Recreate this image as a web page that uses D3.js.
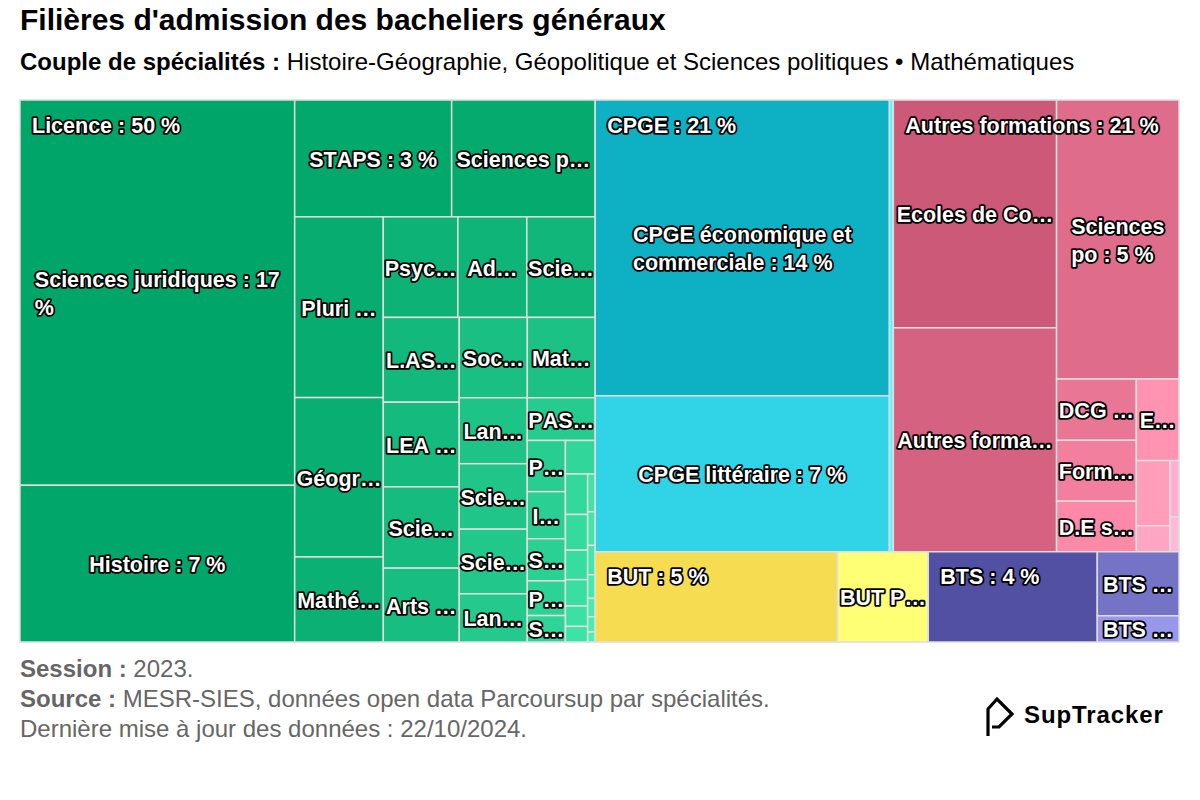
<!DOCTYPE html>
<html><head><meta charset="utf-8">
<script src="https://cdn.jsdelivr.net/npm/d3@7"></script>
<style>
body{margin:0;background:#fff;}
svg text{font-family:"Liberation Sans",Arial,Helvetica,sans-serif;}
</style></head>
<body><svg id="chart" width="1200" height="800"></svg>
<script>
const title = "Filières d'admission des bacheliers généraux";
const subtitleBold = "Couple de spécialités :";
const subtitleText = " Histoire-Géographie, Géopolitique et Sciences politiques • Mathématiques";

const groupNames = ["Licence", "CPGE", "Autres formations", "BUT", "BTS"];

const licenceNames = ["Sciences juridiques", "Histoire", "STAPS", "Sciences politiques",
  "Pluri Droit - Sciences politiques", "Géographie et aménagement",
  "Mathématiques et informatique appliquées aux sciences humaines et sociales",
  "Psychologie", "Administration économique et sociale", "Sciences économiques",
  "L.AS (Licence Accès Santé)", "LEA - Langues étrangères appliquées", "Sciences sociales",
  "Arts plastiques", "Sociologie", "Mathématiques",
  "Langues, littératures et civilisations étrangères", "Sciences de l'éducation",
  "Sciences du langage", "Langues, littératures et civilisations régionales",
  "PASS (Parcours d'accès spécifique santé)", "Philosophie", "Information - communication",
  "Sciences de la vie", "Physique - chimie", "Sciences de la Terre", "Musicologie",
  "Economie - gestion", "Géologie", "Archéologie", "Théologie", "Chimie",
  "Ethnologie", "Sciences cognitives", "Histoire de l'art", "Electronique", "Mécanique",
  "Biologie", "Physique", "Anglais"];
const licenceValues = [16.79, 6.83, 2.91, 2.66, 2.54, 2.24, 1.195, 1.19, 1.10, 1.09,
  1.022, 1.02, 0.98, 0.89, 0.868, 0.865, 0.712, 0.706, 0.698, 0.52,
  0.46, 0.31, 0.285, 0.255, 0.21, 0.16, 0.158, 0.143, 0.126, 0.104, 0.093, 0.072,
  0.055, 0.045, 0.04, 0.035, 0.028, 0.022, 0.018, 0.012];

const cpgeNames = ["CPGE économique et commerciale", "CPGE littéraire", "CPGE scientifique"];
const cpgeValues = [13.81, 7.28, 0.28];

const autresNames = ["Ecoles de Commerce", "Autres formations", "Sciences po",
  "DCG (Diplôme de comptabilité et de gestion)", "Formations des écoles d'art",
  "D.E sanitaire et social", "Ecoles d'ingénieurs", "Diplômes d'établissement",
  "Mention complémentaire", "Classes préparatoires", "Formations paramédicales"];
const autresValues = [5.90, 5.80, 5.42, 0.775, 0.77, 0.64, 0.552, 0.348, 0.139, 0.08, 0.05];

const butNames = ["BUT Service", "BUT Production"];
const butValues = [3.47, 1.30];

const btsNames = ["BTS Services", "BTS Production", "BTS Agricole"];
const btsValues = [2.42, 0.83, 0.34];

const footerSession = "2023.";
const footerSource = "MESR-SIES, données open data Parcoursup par spécialités.";
const footerUpdate = "Dernière mise à jour des données : 22/10/2024.";

// styles
const groupColors = ["#00a56a", "#0eb1c4", "#cb5977", "#f5dc50", "#5150a2"];
const groupVariation = [0.3, 0.42, 0.42, 0.3, 0.42];
const childNames = [licenceNames, cpgeNames, autresNames, butNames, btsNames];
const childValues = [licenceValues, cpgeValues, autresValues, butValues, btsValues];

const W = 1200, H = 800;
const P = {x: 20, y: 100, w: 1159, h: 542};
const svg = d3.select("#chart");
svg.append("rect").attr("width", W).attr("height", H).attr("fill", "#fff");

svg.append("text").attr("x", 20).attr("y", 30).attr("font-size", 30)
  .attr("font-weight", "bold").attr("fill", "#000").text(title);
const st = svg.append("text").attr("x", 20).attr("y", 70).attr("font-size", 24).attr("fill", "#000");
st.append("tspan").attr("font-weight", "bold").text(subtitleBold);
st.append("tspan").text(subtitleText);

// Highcharts-like squarified tiling (alternating direction)
function hcSquarified(node, x0, y0, x1, y1) {
  const kids = node.children;
  const Wd = x1 - x0, Ht = y1 - y0, pTot = Wd * Ht, tot = node.value;
  const ar = (w, h) => Math.max(w / h, h / w);
  const g = {height: Ht, width: Wd, direction: 0, total: 0, nW: 0, lW: 0, nH: 0, lH: 0,
    elArr: [], lP: {total: 0, lH: 0, nH: 0, lW: 0, nW: 0, nR: 0, lR: 0}};
  const plot = {x: x0, y: y0};
  const out = [];
  function addElement(el) {
    const lP = g.lP;
    lP.total = g.elArr[g.elArr.length - 1];
    g.total += el;
    if (g.direction === 0) {
      g.lW = g.nW; lP.lH = lP.total / g.lW; lP.lR = ar(g.lW, lP.lH);
      g.nW = g.total / g.height; lP.nH = lP.total / g.nW; lP.nR = ar(g.nW, lP.nH);
    } else {
      g.lH = g.nH; lP.lW = lP.total / g.lH; lP.lR = ar(lP.lW, g.lH);
      g.nH = g.total / g.width; lP.nW = lP.total / g.nH; lP.nR = ar(lP.nW, g.nH);
    }
    g.elArr.push(el);
  }
  function calcPoints(last) {
    let gW = g.lW, gH = g.lH, keep;
    if (last) { gW = g.nW; gH = g.nH; } else { keep = g.elArr[g.elArr.length - 1]; }
    const end = g.elArr.length - 1;
    g.elArr.forEach((p, i) => {
      if (last || i < end) {
        let pW, pH;
        if (g.direction === 0) { pW = gW; pH = p / pW; } else { pH = gH; pW = p / pH; }
        out.push({x: plot.x, y: plot.y, w: pW, h: pH});
        if (g.direction === 0) plot.y += pH; else plot.x += pW;
      }
    });
    g.nW = 0; g.lW = 0; g.elArr = []; g.total = 0;
    if (g.direction === 0) g.width -= gW; else g.height -= gH;
    plot.y = y0 + (Ht - g.height);
    plot.x = x0 + (Wd - g.width);
    g.direction = 1 - g.direction;
    if (!last) addElement(keep);
  }
  kids.forEach((c, i) => {
    addElement(c.value / tot * pTot);
    if (g.lP.nR > g.lP.lR) calcPoints(false);
    if (i === kids.length - 1) calcPoints(true);
  });
  kids.forEach((c, i) => { const r = out[i]; c.x0 = r.x; c.y0 = r.y; c.x1 = r.x + r.w; c.y1 = r.y + r.h; });
}

const data = {name: "root", children: groupNames.map((gname, gi) => ({
  name: gname, gi,
  children: childNames[gi].map((n, i) => ({name: n, value: childValues[gi][i]}))
}))};
const root = d3.hierarchy(data).sum(d => d.children ? 0 : d.value)
  .sort((a, b) => b.value - a.value);
d3.treemap().size([P.w, P.h]).tile(hcSquarified).round(false)(root);
const total = root.value;

function leafColor(leaf) {
  const par = leaf.parent, gi = par.data.gi;
  const i = par.children.indexOf(leaf), n = par.children.length;
  const c = d3.rgb(groupColors[gi]);
  const d = Math.floor(groupVariation[gi] * (i / n) * 255);
  return d3.rgb(Math.min(255, c.r + d), Math.min(255, c.g + d), Math.min(255, c.b + d)).formatHex();
}

const cells = svg.append("g").attr("transform", `translate(${P.x},${P.y})`);
cells.selectAll("rect").data(root.leaves()).join("rect")
  .attr("x", d => d.x0).attr("y", d => d.y0)
  .attr("width", d => Math.max(0, d.x1 - d.x0)).attr("height", d => Math.max(0, d.y1 - d.y0))
  .attr("fill", leafColor).attr("stroke", "#dedede").attr("stroke-width", 1.5);

// labels
const FS = 21.5;
const meas = svg.append("text").attr("font-size", FS).attr("font-weight", "bold")
  .style("font-kerning", "none").attr("visibility", "hidden");
function tw(s) { meas.text(s); return meas.node().getComputedTextLength(); }
function truncate(s, maxW) {
  if (tw(s) <= maxW) return s;
  for (let k = s.length - 1; k >= 1; k--) {
    const c = s.slice(0, k) + "…";
    if (tw(c) <= maxW) return c;
  }
  return null;
}
function layoutLabel(txt, w, h) {
  const L = Math.max(1, Math.floor(h / 130));
  const wrapW = w - 10, truncW = w - 2;
  if (tw(txt) <= wrapW) return [txt];
  const words = txt.split(" ");
  const lines = []; let cur = "";
  for (const wd of words) {
    const t = cur ? cur + " " + wd : wd;
    if (!cur || tw(t) <= wrapW) cur = t; else { lines.push(cur); cur = wd; }
  }
  lines.push(cur);
  if (lines.length <= L && lines.every(l => tw(l) <= wrapW)) return lines;
  const keep = lines.slice(0, L - 1);
  if (!keep.every(l => tw(l) <= truncW)) return null;
  const rest = txt.slice(keep.join(" ").length).trim();
  const t = truncate(rest, truncW);
  if (!t) return null;
  return keep.concat([t]);
}
const pct = v => Math.round(v / total * 100);
const labelsG = svg.append("g").attr("font-size", FS).attr("font-weight", "bold")
  .attr("fill", "#fff").attr("stroke", "#000").attr("stroke-width", 3.6)
  .attr("stroke-linejoin", "round").attr("paint-order", "stroke")
  .style("font-kerning", "none");

const boxes = [];
root.children.forEach(gn => {
  const txt = `${gn.data.name} : ${pct(gn.value)} %`;
  const x = P.x + gn.x0 + 12, y = P.y + gn.y0 + 32.5;
  labelsG.append("text").attr("x", x).attr("y", y).text(txt);
  boxes.push({x0: x - 4, x1: x + tw(txt) + 4, y0: y - 20, y1: y + 8});
});
root.leaves().forEach(lf => {
  const w = lf.x1 - lf.x0, h = lf.y1 - lf.y0;
  const lines = layoutLabel(`${lf.data.name} : ${pct(lf.value)} %`, w, h);
  if (!lines) return;
  const cx = P.x + (lf.x0 + lf.x1) / 2, cy = P.y + (lf.y0 + lf.y1) / 2;
  const n = lines.length, lh = 28;
  const maxW = d3.max(lines, tw);
  const xs = cx - maxW / 2;
  const b0 = cy + 8.5 - (n - 1) / 2 * lh;
  const box = {x0: xs - 4, x1: xs + maxW + 4, y0: b0 - 20, y1: b0 + (n - 1) * lh + 8};
  if (boxes.some(b => b.x0 < box.x1 && box.x0 < b.x1 && b.y0 < box.y1 && box.y0 < b.y1)) return;
  const t = labelsG.append("text");
  lines.forEach((l, i) => t.append("tspan").attr("x", xs).attr("y", b0 + i * lh).text(l));
});

// footer
const ft = svg.append("g").attr("fill", "#666").attr("font-size", 24);
const f1 = ft.append("text").attr("x", 20).attr("y", 677);
f1.append("tspan").attr("font-weight", "bold").text("Session :");
f1.append("tspan").text(" " + footerSession);
const f2 = ft.append("text").attr("x", 20).attr("y", 707);
f2.append("tspan").attr("font-weight", "bold").text("Source :");
f2.append("tspan").text(" " + footerSource);
ft.append("text").attr("x", 20).attr("y", 737).text(footerUpdate);

// logo
const logo = svg.append("g");
logo.append("path").attr("d", "M988,736 L988,709 L997,699 L1012,714 L999,727 L992,727")
  .attr("fill", "none").attr("stroke", "#000").attr("stroke-width", 3.2).attr("stroke-linejoin", "miter");
logo.append("text").attr("x", 1024).attr("y", 723).attr("font-size", 24)
  .attr("font-family", "Inter, 'Liberation Sans', sans-serif").attr("font-weight", 700)
  .attr("letter-spacing", 0.9).attr("fill", "#000").text("SupTracker");
</script>
</body></html>
